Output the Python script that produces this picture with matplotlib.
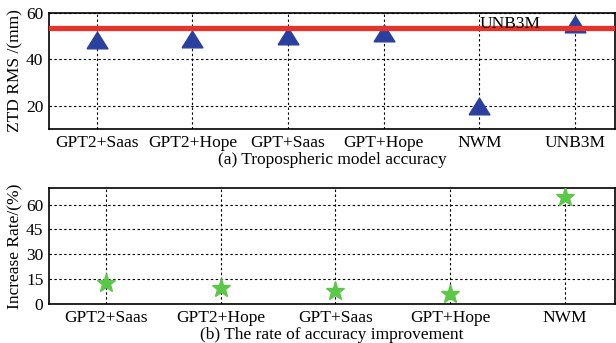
import matplotlib.pyplot as plt
import numpy as np

plt.rcParams['font.family'] = ['Liberation Serif', 'DejaVu Serif']

# Data
models_a = ['GPT2+Saas', 'GPT2+Hope', 'GPT+Saas', 'GPT+Hope', 'NWM', 'UNB3M']
rms_a = [48.3, 48.9, 50.2, 51.4, 20.0, 55.2]
unb3m_ref = 53.5

models_b = ['GPT2+Saas', 'GPT2+Hope', 'GPT+Saas', 'GPT+Hope', 'NWM']
rate_b = [12.5, 9.8, 8.0, 5.8, 64.3]

W, H = 616, 343
fig = plt.figure(figsize=(W / 100, H / 100), dpi=100)

grid_kw = dict(color='black', linestyle=(0, (2.2, 2.2)), linewidth=0.8)
fs = 12.5
# slightly flattened triangle, like the original marker
tri = [(-1.25, -1), (1.25, -1), (0, 1), (-1.25, -1)]

# (a) tropospheric model accuracy
ax1 = fig.add_axes([49 / W, 1 - 129 / H, 566 / W, 116 / H])
xa = np.arange(1, len(models_a) + 1)
ax1.plot(xa, rms_a, linestyle='none', marker=tri, markersize=15,
         color='#2b3f9e', zorder=3)
ax1.axhline(unb3m_ref, color='#e5332a', linewidth=3.8, zorder=4)
ax1.text(5, 55.2, 'UNB3M', fontsize=fs, va='center', ha='left', zorder=5)
ax1.set_xlim(0.5, 6.42)
ax1.set_ylim(10, 60)
ax1.set_yticks([20, 40, 60])
ax1.set_xticks(xa)
ax1.set_xticklabels(models_a)
ax1.set_ylabel('ZTD RMS /(mm)', fontsize=fs, labelpad=2)
ax1.set_xlabel('(a) Tropospheric model accuracy', fontsize=fs, labelpad=1)
ax1.grid(True, **grid_kw)

# (b) rate of accuracy improvement
ax2 = fig.add_axes([49 / W, 1 - 304 / H, 566 / W, 116 / H])
xb = np.arange(1, len(models_b) + 1)
ax2.plot(xb, rate_b, linestyle='none', marker='*', markersize=14,
         color='#5cc84a', zorder=3)
ax2.set_xlim(0.5, 5.44)
ax2.set_ylim(0, 70)
ax2.set_yticks([0, 15, 30, 45, 60])
ax2.set_xticks(xb)
ax2.set_xticklabels(models_b)
ax2.set_ylabel('Increase Rate/(%)', fontsize=fs, labelpad=2)
ax2.set_xlabel('(b) The rate of accuracy improvement', fontsize=fs, labelpad=1)
ax2.grid(True, **grid_kw)

for ax in (ax1, ax2):
    ax.tick_params(axis='both', length=0, labelsize=fs, pad=4)
    for s in ax.spines.values():
        s.set_linewidth(1.2)
    ax.set_axisbelow(True)

fig.savefig('out.png', dpi=100)
